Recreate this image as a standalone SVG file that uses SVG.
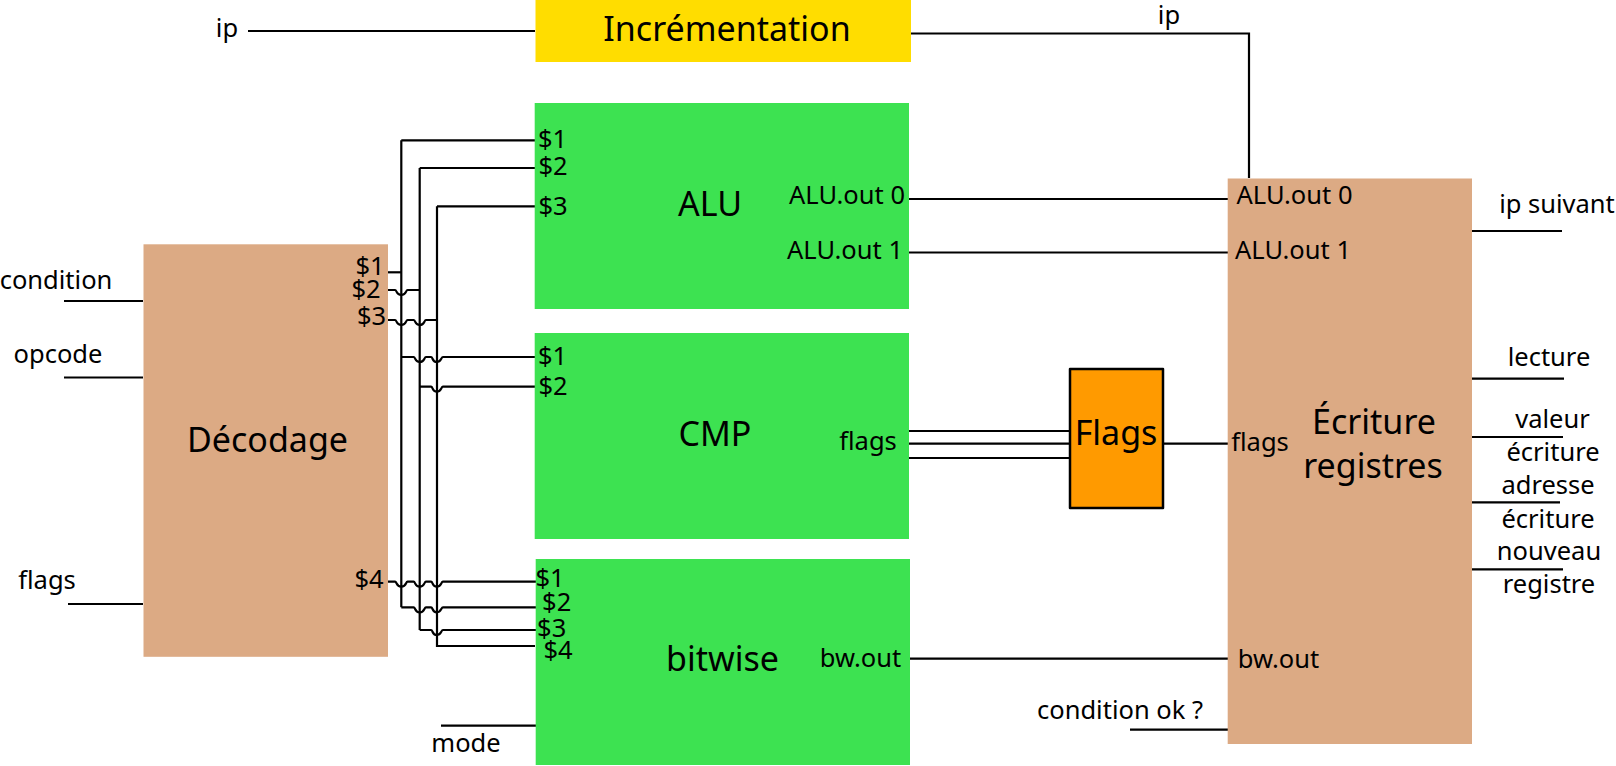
<svg xmlns="http://www.w3.org/2000/svg" width="1616" height="766" viewBox="0 0 1616 766">
<style>
text{font-family:"Noto Sans","Open Sans",sans-serif;font-size:25.500px;fill:#000;text-anchor:middle}
.big{font-size:34px}
.green{fill:#3de251}.tan{fill:#dcaa84}
.w{fill:none;stroke:#000;stroke-width:2.2}
</style>
<rect width="1616" height="766" fill="#fff"/>
<g id="connectors" class="w">
<path d="M248 31H535"/>
<path d="M911 33.500H1249V178"/>
<path d="M909 199H1228M909 252.500H1228M909 431H1070M909 443.700H1070M909 458H1070M1163 443.700H1228M909 658.600H1228M1130 729.600H1228M441 725.700H536"/>
<path d="M64 301H143M64 377.500H143M68 604H143"/>
<path d="M1472 231H1562M1472 378.700H1564M1472 437H1563M1472 502.300H1560M1472 569.300H1563"/>
<path d="M401.300 140.300H535V140.300M401.300 140.300V607.300M419.700 168H535M419.700 168V630M437 206.300H535M437 206.300V646H535"/>
<path d="M388 272.300H401.300"/>
<path d="M388 290H395c2 0 1 5 6.300 5s4.300-5 6.300-5H419.700"/>
<path d="M388 320H395c2 0 1 5 6.300 5s4.300-5 6.300-5h6c2 0 1 5 6.100 5s4.300-5 6.300-5H437"/>
<path d="M401.300 357H413.600c2 0 1 5 6.100 5s4.300-5 6.300-5h5c2 0 1 5 5.700 5s4.300-5 6.300-5H535"/>
<path d="M419.700 386.700H431c2 0 1 5 5.700 5s4.300-5 6.300-5H535"/>
<path d="M388 581.700H395c2 0 1 5 6.300 5s4.300-5 6.300-5h6c2 0 1 5 6.100 5s4.300-5 6.300-5h5c2 0 1 5 5.700 5s4.300-5 6.300-5H536"/>
<path d="M401.300 607.300H413.600c2 0 1 5 6.100 5s4.300-5 6.300-5h5c2 0 1 5 5.700 5s4.300-5 6.300-5H536"/>
<path d="M419.700 630H431c2 0 1 5 5.700 5s4.300-5 6.300-5H536"/>
</g>
<g id="increment"><rect x="535.500" y="0" width="375.500" height="62" fill="#ffdd00"/><text class="big" x="727" y="41">Incrémentation</text></g>
<g id="decodage"><rect class="tan" x="143.500" y="244.300" width="244.500" height="412.500"/><text class="big" x="267.500" y="452">Décodage</text>
<text x="370" y="275">$1</text><text x="366" y="298">$2</text><text x="371.500" y="325">$3</text><text x="369" y="587.500">$4</text></g>
<g id="alu"><rect class="green" x="534.700" y="103" width="374.300" height="206"/><text class="big" x="710" y="216">ALU</text>
<text x="552.500" y="147.500">$1</text><text x="553" y="175">$2</text><text x="553" y="215">$3</text><text x="847" y="204">ALU.out 0</text><text x="845" y="259">ALU.out 1</text></g>
<g id="cmp"><rect class="green" x="534.700" y="333" width="374.300" height="206"/><text class="big" x="715" y="446">CMP</text>
<text x="552.500" y="365">$1</text><text x="553" y="395">$2</text><text x="868" y="450">flags</text></g>
<g id="bitwise"><rect class="green" x="535.700" y="559" width="374.300" height="206"/><text class="big" x="722.500" y="671">bitwise</text>
<text x="550" y="587">$1</text><text x="556.700" y="611">$2</text><text x="551.700" y="636.500">$3</text><text x="558" y="659">$4</text><text x="860.500" y="667">bw.out</text></g>
<text x="466" y="752">mode</text>
<g id="flags"><rect x="1070" y="369" width="93" height="139" fill="#ff9a00" stroke="#000" stroke-width="2.500" stroke-linejoin="round"/><text class="big" x="1116" y="445">Flags</text></g>
<g id="ecriture"><rect class="tan" x="1227.700" y="178.500" width="244.300" height="565.500"/><text class="big" x="1374" y="434">Écriture</text><text class="big" x="1373" y="478">registres</text>
<text x="1294.500" y="204">ALU.out 0</text><text x="1293" y="259">ALU.out 1</text><text x="1260" y="451">flags</text><text x="1278.500" y="668">bw.out</text></g>
<g id="labels">
<text x="227" y="37">ip</text><text x="1169" y="24">ip</text>
<text x="56" y="289">condition</text><text x="58" y="363">opcode</text><text x="47" y="589">flags</text>
<text x="1120" y="719">condition ok ?</text>
<text x="1557" y="213">ip suivant</text><text x="1549" y="366">lecture</text><text x="1552.500" y="427.500">valeur</text><text x="1553" y="461">écriture</text><text x="1548" y="494">adresse</text><text x="1548" y="527.500">écriture</text><text x="1549" y="560">nouveau</text><text x="1549" y="593">registre</text>
</g>
</svg>
